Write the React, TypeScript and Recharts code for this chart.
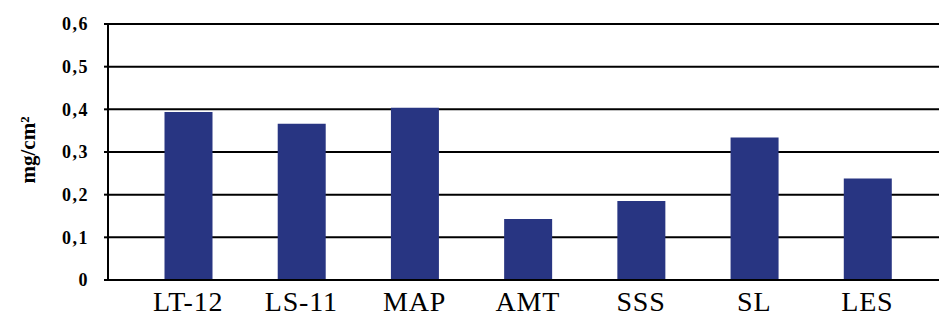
import React from 'react';
import { BarChart, Bar, XAxis, YAxis, CartesianGrid } from 'recharts';

const categories = ['LT-12', 'LS-11', 'MAP', 'AMT', 'SSS', 'SL', 'LES'];
const values = [0.394, 0.366, 0.404, 0.143, 0.185, 0.334, 0.238];
const yTicks = [0, 0.1, 0.2, 0.3, 0.4, 0.5, 0.6];

const data = categories.map((name, i) => ({ name, value: values[i] }));

const serif = 'Liberation Serif, Times New Roman, DejaVu Serif, serif';

const fmt = (v: number) => (v === 0 ? '0' : v.toFixed(1).replace('.', ','));

// rotated unit label, baseline on x = 35
const YLabel = () => (
  <text
    x={35}
    y={150}
    transform="rotate(-90 35 150)"
    textAnchor="middle"
    style={{ fontFamily: serif, fontWeight: 'bold', fontSize: 21 }}
    fill="#000"
  >
    mg/cm²
  </text>
);

const App: React.FC = () => {
  return (
    <div style={{ position: 'absolute', left: 0, top: 0, background: '#fff', fontFamily: serif }}>
      <BarChart
        width={939}
        height={318}
        data={data}
        margin={{ top: 24, right: 0, left: 0, bottom: 0 }}
        style={{ fontFamily: serif }}
      >
        <CartesianGrid horizontal vertical={false} stroke="#000" strokeWidth={2} />
        <XAxis
          dataKey="name"
          height={38}
          padding={{ left: 23.5, right: 15 }}
          tickSize={0}
          tickMargin={11}
          axisLine={{ stroke: '#000', strokeWidth: 2 }}
          tick={{ fill: '#000', fontSize: 28, style: { fontFamily: serif, letterSpacing: 0.8 } }}
        />
        <YAxis
          width={108}
          domain={[0, 0.6]}
          ticks={yTicks}
          tickFormatter={fmt}
          tickSize={4}
          tickMargin={15}
          axisLine={{ stroke: '#000', strokeWidth: 2 }}
          tickLine={{ stroke: '#000', strokeWidth: 2 }}
          tick={{
            fill: '#000',
            fontSize: 18,
            fontWeight: 'bold',
            style: { fontFamily: serif, letterSpacing: 1.5 },
          }}
          label={<YLabel />}
        />
        <Bar dataKey="value" fill="#283582" barSize={48} isAnimationActive={false} />
      </BarChart>
    </div>
  );
};

export default App;
